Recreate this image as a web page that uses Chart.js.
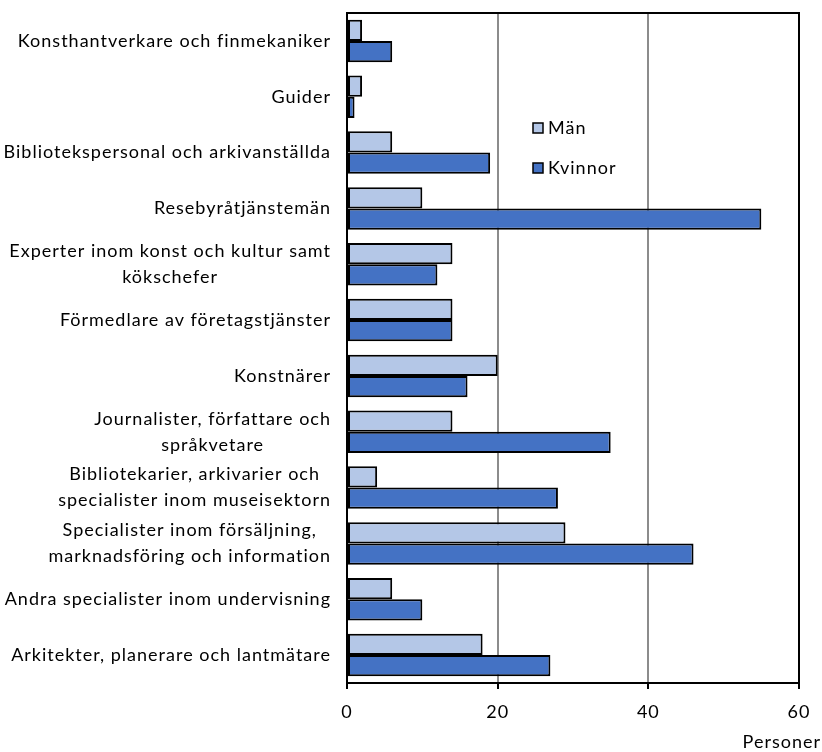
<!DOCTYPE html>
<html>
<head>
<meta charset="utf-8">
<script src="https://cdn.jsdelivr.net/npm/chart.js@4.4.0/dist/chart.umd.js"></script>
<style>
  html, body { margin: 0; padding: 0; background: #fff; }
  #wrap { position: relative; width: 822px; height: 752px; }
</style>
</head>
<body>
<div id="wrap"><canvas id="chart"></canvas></div>
<script>
const categories = [
    ['Konsthantverkare och finmekaniker'],
    ['Guider'],
    ['Bibliotekspersonal och arkivanställda'],
    ['Resebyråtjänstemän'],
    ['Experter inom konst och kultur samt', 'kökschefer'],
    ['Förmedlare av företagstjänster'],
    ['Konstnärer'],
    ['Journalister, författare och', 'språkvetare'],
    ['Bibliotekarier, arkivarier och', 'specialister inom museisektorn'],
    ['Specialister inom försäljning,', 'marknadsföring och information'],
    ['Andra specialister inom undervisning'],
    ['Arkitekter, planerare och lantmätare']
];
const man = [2, 2, 6, 10, 14, 14, 20, 14, 4, 29, 6, 18];
const kvinnor = [6, 1, 19, 55, 12, 14, 16, 35, 28, 46, 10, 27];
const xTicks = [0, 20, 40, 60];

const FONT = "Lato, 'Open Sans', sans-serif";
const FONT_SIZE = 18;

// category labels: block right aligned, lines centered inside the block
const labelPlugin = {
    id: 'labels',
    beforeDraw(chart) {
        chart.ctx.letterSpacing = '1px';
    },
    afterDraw(chart) {
        const ctx = chart.ctx;
        const y = chart.scales.y;
        const right = chart.chartArea.left - 16;
        const lh = 26;
        ctx.save();
        ctx.font = FONT_SIZE + 'px ' + FONT;
        ctx.letterSpacing = '1px';
        ctx.fillStyle = '#000';
        ctx.textAlign = 'center';
        ctx.textBaseline = 'middle';
        categories.forEach((lines, i) => {
            const cy = y.getPixelForTick(i);
            const w = Math.max(...lines.map(l => ctx.measureText(l).width));
            const cx = right - w / 2;
            lines.forEach((l, j) => {
                ctx.fillText(l, cx, cy + (j - (lines.length - 1) / 2) * lh);
            });
        });
        // axis title
        ctx.textAlign = 'right';
        ctx.fillText('Personer', 821, 742);
        // legend
        const items = [['Män', '#B4C7E7', 128], ['Kvinnor', '#4472C4', 168]];
        ctx.textAlign = 'left';
        items.forEach(([t, c, ly]) => {
            ctx.fillStyle = c;
            ctx.fillRect(533, ly - 5, 10, 10);
            ctx.lineWidth = 1.5;
            ctx.strokeStyle = '#000';
            ctx.strokeRect(533, ly - 5, 10, 10);
            ctx.fillStyle = '#000';
            ctx.fillText(t, 548, ly);
        });
        ctx.restore();
    },
    beforeDatasetsDraw(chart) {
        const a = chart.chartArea;
        const ctx = chart.ctx;
        ctx.save();
        ctx.strokeStyle = '#000';
        ctx.lineWidth = 2;
        ctx.strokeRect(a.left, a.top, a.right - a.left, a.bottom - a.top);
        ctx.restore();
    }
};

new Chart(document.getElementById('chart'), {
    type: 'bar',
    data: {
        labels: categories.map(c => c.join(' ')),
        datasets: [
            {
                label: 'Män',
                data: man,
                backgroundColor: '#B4C7E7',
                borderColor: '#000',
                borderWidth: 2,
                borderSkipped: false,
                categoryPercentage: 0.76,
                barPercentage: 1
            },
            {
                label: 'Kvinnor',
                data: kvinnor,
                backgroundColor: '#4472C4',
                borderColor: '#000',
                borderWidth: 2,
                borderSkipped: false,
                categoryPercentage: 0.76,
                barPercentage: 1
            }
        ]
    },
    options: {
        indexAxis: 'y',
        responsive: true,
        maintainAspectRatio: false,
        animation: false,
        layout: { padding: { top: 13, right: 23, left: 0, bottom: 0 } },
        plugins: {
            legend: { display: false },
            tooltip: { enabled: false }
        },
        scales: {
            x: {
                min: 0,
                max: 60,
                afterBuildTicks: s => { s.ticks = xTicks.map(v => ({ value: v })); },
                afterFit: s => { s.height = 69; },
                border: { display: true, color: '#000', width: 2 },
                grid: {
                    color: c => (c.tick.value === 0 || c.tick.value === 60) ? '#000' : '#8c8c8c',
                    lineWidth: 2,
                    tickColor: '#000',
                    tickLength: 6,
                    drawTicks: true
                },
                ticks: {
                    color: '#000',
                    padding: 12,
                    font: { family: FONT, size: FONT_SIZE }
                }
            },
            y: {
                afterFit: s => { s.width = 347; },
                border: { display: true, color: '#000', width: 2 },
                grid: { display: false },
                ticks: { display: false }
            }
        }
    },
    plugins: [labelPlugin]
});
</script>
</body>
</html>
